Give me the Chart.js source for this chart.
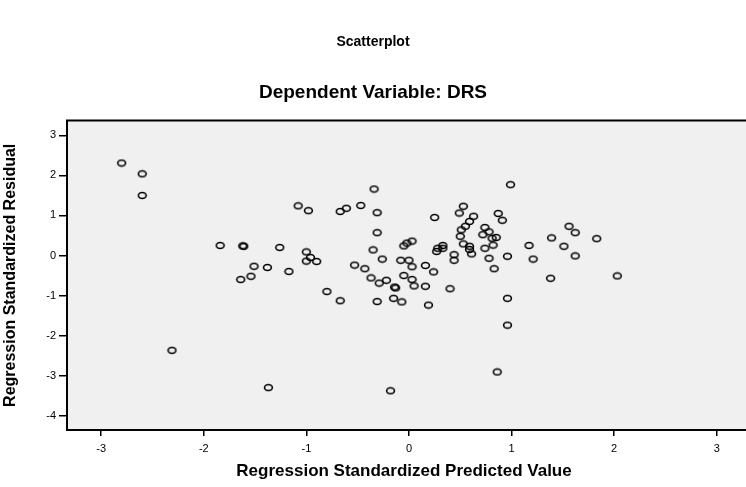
<!DOCTYPE html>
<html><head><meta charset="utf-8">
<script src="https://cdn.jsdelivr.net/npm/chart.js@4/dist/chart.umd.min.js"></script>
<style>html,body{margin:0;padding:0;background:#fff}#wrap{width:746px;height:487px}</style>
</head><body><div id="wrap"><canvas id="c" width="746" height="487"></canvas></div>
<script>
const predicted = [-2.80,-2.60,-2.60,-1.84,-1.62,-1.61,-1.51,-1.54,-1.64,-2.31,
 -0.34,-1.08,-0.98,-0.67,-0.61,-0.47,-0.31,0.25,-0.31,-1.26,
 -1.00,-0.96,-1.00,-0.90,-1.38,-1.17,-0.35,-0.26,-0.53,-0.43,
 -0.37,-0.22,-0.05,-0.02,0.03,-0.08,0.00,0.03,0.16,0.24,
 -0.05,0.03,0.28,0.27,0.33,0.33,-0.80,-0.67,-0.29,-0.14,
 -0.13,0.05,0.16,0.40,-0.31,-0.15,-0.07,0.19,-1.37,-0.18,
 0.99,0.53,0.49,0.63,0.59,0.87,0.91,0.55,0.51,0.50,
 0.74,0.78,0.72,0.81,0.85,0.53,0.59,0.59,0.61,0.82,
 0.74,0.78,0.96,0.83,0.44,0.44,1.17,1.21,1.39,1.51,
 1.56,1.62,1.62,1.83,1.38,2.03,0.96,0.96,0.86];
const residual = [2.31,2.04,1.50,0.25,0.24,0.23,-0.27,-0.52,-0.60,-2.37,
 1.66,1.24,1.12,1.10,1.18,1.25,1.07,0.95,0.57,0.20,
 0.09,-0.05,-0.14,-0.15,-0.30,-0.40,0.14,-0.09,-0.24,-0.33,
 -0.56,-0.62,0.24,0.31,0.36,-0.12,-0.12,-0.28,-0.25,-0.41,
 -0.50,-0.60,0.18,0.10,0.25,0.18,-0.90,-1.13,-0.69,-0.79,
 -0.81,-0.76,-0.77,-0.83,-1.15,-1.07,-1.16,-1.24,-3.30,-3.38,
 1.77,1.23,1.06,0.98,0.85,1.05,0.88,0.73,0.64,0.48,
 0.70,0.59,0.52,0.43,0.45,0.29,0.23,0.15,0.04,0.26,
 0.18,-0.07,-0.02,-0.33,0.02,-0.12,0.25,-0.09,0.44,0.23,
 0.73,0.57,-0.01,0.42,-0.57,-0.51,-1.07,-1.74,-2.91];
const xTicks = [-3,-2,-1,0,1,2,3];
const yTicks = [-4,-3,-2,-1,0,1,2,3];
const chartTitle = 'Scatterplot';
const chartSubtitle = 'Dependent Variable: DRS';
const xTitle = 'Regression Standardized Predicted Value';
const yTitle = 'Regression Standardized Residual';

const FONT = 'Liberation Sans, Arial, Helvetica, sans-serif';

// elliptical hollow marker
const mk = document.createElement('canvas');
mk.width = 11; mk.height = 9;
(function(){const g = mk.getContext('2d');
 g.strokeStyle = '#000'; g.lineWidth = 1.6;
 g.beginPath(); g.ellipse(5.5, 4.5, 3.9, 3.0, 0, 0, Math.PI*2); g.stroke();})();

const points = predicted.map((x,i)=>({x:x, y:residual[i]}));

const plotBg = {
 id:'plotBg',
 beforeDraw(chart){
  const a = chart.chartArea, c = chart.ctx;
  c.save(); c.fillStyle = '#f0f0f0';
  c.fillRect(a.left, a.top, chart.width - a.left, a.bottom - a.top);
  c.restore();
 },
 afterDraw(chart){
  const a = chart.chartArea, c = chart.ctx;
  c.save(); c.strokeStyle = '#000'; c.lineWidth = 2;
  c.beginPath(); c.moveTo(a.left-1, a.top); c.lineTo(chart.width, a.top); c.stroke();
  c.beginPath(); c.moveTo(a.right, a.bottom); c.lineTo(chart.width, a.bottom); c.stroke();
  c.restore();
 }
};

new Chart(document.getElementById('c'), {
 type:'scatter',
 data:{datasets:[{data:points, pointStyle:mk, pointRadius:4, pointHoverRadius:4,
   borderColor:'#000', backgroundColor:'rgba(0,0,0,0)', showLine:false}]},
 options:{
  responsive:false, animation:false, devicePixelRatio:1,
  layout:{padding:0},
  plugins:{
   legend:{display:false}, tooltip:{enabled:false},
   title:{display:true, text:chartTitle, color:'#000',
     font:{family:FONT, size:14, weight:'bold'}, padding:{top:34,bottom:31}},
   subtitle:{display:true, text:chartSubtitle, color:'#000',
     font:{family:FONT, size:19, weight:'bold'}, padding:{top:0,bottom:16}}
  },
  scales:{
   x:{type:'linear', position:'bottom', min:-3.333, max:3.236,
    afterBuildTicks(s){ s.ticks = xTicks.map(v=>({value:v})); },
    afterFit(s){ s.height = 57; },
    ticks:{color:'#000', font:{family:FONT, size:11}, padding:6, maxRotation:0, autoSkip:false,
      callback:v=>String(v)},
    grid:{drawOnChartArea:false, drawTicks:true, tickLength:6, color:'#000', lineWidth:1.5},
    border:{display:true, color:'#000', width:2},
    title:{display:true, text:xTitle, color:'#000', font:{family:FONT, size:17, weight:'bold'}, padding:{top:4,bottom:5}}
   },
   y:{type:'linear', position:'left', min:-4.36, max:3.37,
    afterBuildTicks(s){ s.ticks = yTicks.map(v=>({value:v})); },
    afterFit(s){ s.width = 67; },
    ticks:{color:'#000', font:{family:FONT, size:11}, padding:3, autoSkip:false,
      callback:v=>String(v)},
    grid:{drawOnChartArea:false, drawTicks:true, tickLength:8, color:'#000', lineWidth:1.5},
    border:{display:true, color:'#000', width:2},
    title:{display:true, text:yTitle, color:'#000', font:{family:FONT, size:16, weight:'bold'}, padding:{top:1,bottom:4}}
   }
  }
 },
 plugins:[plotBg]
});
</script>
</body></html>
